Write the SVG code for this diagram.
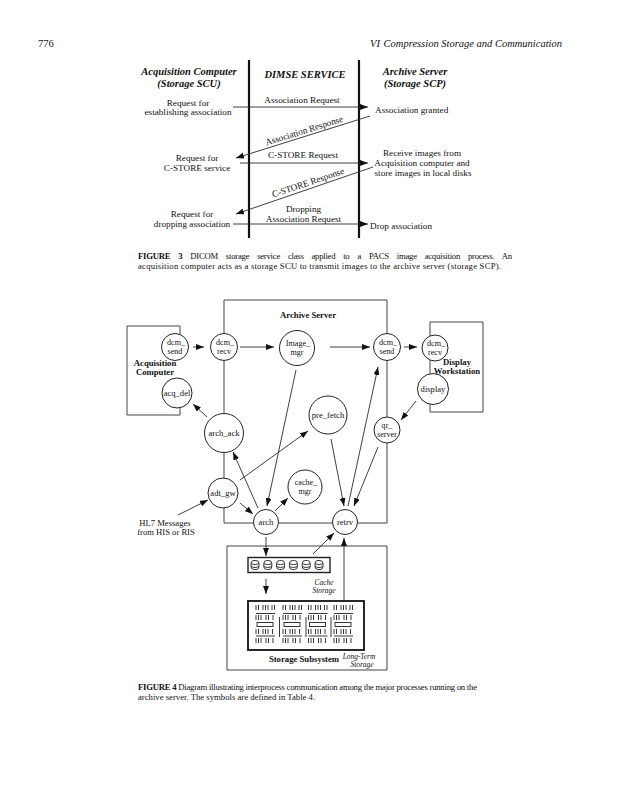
<svg xmlns="http://www.w3.org/2000/svg" width="644" height="800" viewBox="0 0 644 800">
<style>
text{font-family:"Liberation Serif","Times New Roman",serif;fill:#111}
.hd{font-size:10.5px;font-style:italic}
.pg{font-size:10.5px}
.h3{font-size:10.5px;font-weight:bold;font-style:italic}
.t3{font-size:9.2px}
.cap{font-size:8.7px}
.capb{font-weight:bold}
.lb{font-size:8.6px}
.l2{font-size:8.1px}
.bb{font-size:8.7px;font-weight:bold}
.it{font-size:7.4px;font-style:italic}
.c{text-anchor:middle}
.ln{stroke:#2a2a2a;stroke-width:0.9;fill:none}
.vl{stroke:#111;stroke-width:2.2}
.bx{stroke:#444;stroke-width:1;fill:none}
.nd circle{fill:#fff;stroke:#222;stroke-width:1}
.mk{stroke:#222;stroke-width:0.9;fill:none}
</style>
<defs>
<marker id="ah" markerUnits="userSpaceOnUse" markerWidth="8" markerHeight="6" refX="8" refY="3" orient="auto">
<path d="M0,0 L8,3 L0,6 z" fill="#111"/>
</marker>
<g id="disk" class="mk"><rect x="-4" y="-4.5" width="8" height="9" rx="3"/><path d="M-4,-1.3 Q0,0.8 4,-1.3 M-4,1.6 Q0,3.7 4,1.6"/></g>
<g id="col" class="mk">
<path d="M0,0v5M2.5,0v5M7,0v5M9.5,0v5M12,0v5M16,0v5M18.5,0v5"/>
<path d="M0,8.5h19"/>
<path d="M0,10v5M2.5,10v5M5,10v5M10,10v5M12.5,10v5M17,10v5"/>
<rect x="1" y="17.5" width="16" height="4"/>
<path d="M0,24v5M2.5,24v5M7,24v5M9.5,24v5M12,24v5M16.5,24v5"/>
<path d="M0,31h19"/>
<path d="M0,33v5M2.5,33v5M5,33v5M10,33v5M12.5,33v5M17,33v5"/>
</g>
</defs>

<!-- page header -->
<text class="pg" x="38" y="47">776</text>
<text class="hd" x="370" y="47">VI</text>
<text class="hd" x="562" y="47" text-anchor="end">Compression Storage and Communication</text>

<!-- FIGURE 3 -->
<g id="fig3">
<g id="fig3-lanes">
<line class="vl" x1="249" y1="60" x2="249" y2="238"/>
<line class="vl" x1="359" y1="60" x2="359" y2="238"/>
</g>
<g id="fig3-headers">
<text class="h3 c" x="189" y="75">Acquisition Computer</text>
<text class="h3 c" x="189" y="87">(Storage SCU)</text>
<text class="h3 c" x="305" y="78">DIMSE SERVICE</text>
<text class="h3 c" x="415" y="75">Archive Server</text>
<text class="h3 c" x="415" y="87">(Storage SCP)</text>
</g>
<g id="fig3-scu">
<text class="t3 c" x="188" y="106">Request for</text>
<text class="t3 c" x="188" y="115">establishing association</text>
<text class="t3 c" x="197" y="161">Request for</text>
<text class="t3 c" x="197" y="171">C-STORE service</text>
<text class="t3 c" x="192" y="217">Request for</text>
<text class="t3 c" x="192" y="227">dropping association</text>
</g>
<g id="fig3-scp">
<text class="t3" x="375" y="113">Association granted</text>
<text class="t3 c" x="422" y="156">Receive images from</text>
<text class="t3 c" x="422" y="166">Acquisition computer and</text>
<text class="t3 c" x="423" y="176">store images in local disks</text>
<text class="t3" x="370" y="229">Drop association</text>
</g>
<g id="fig3-messages">
<line class="ln" x1="233" y1="107" x2="368" y2="107" marker-end="url(#ah)"/>
<text class="t3 c" x="302" y="103">Association Request</text>
<line class="ln" x1="370" y1="116" x2="236" y2="158" marker-end="url(#ah)"/>
<text class="t3 c" transform="translate(305,133.5) rotate(-17.4)">Association Response</text>
<line class="ln" x1="240" y1="163" x2="368" y2="163" marker-end="url(#ah)"/>
<text class="t3 c" x="303" y="158">C-STORE Request</text>
<line class="ln" x1="373" y1="167" x2="236" y2="214" marker-end="url(#ah)"/>
<text class="t3 c" transform="translate(309,185.5) rotate(-18.6)">C-STORE Response</text>
<line class="ln" x1="233" y1="224" x2="368" y2="224" marker-end="url(#ah)"/>
<text class="t3 c" x="303.5" y="212">Dropping</text>
<text class="t3 c" x="303.5" y="222">Association Request</text>
</g>
</g>

<g id="caption3">
<text class="cap" x="138" y="259" word-spacing="6" textLength="374" lengthAdjust="spacing"><tspan class="capb">FIGURE 3</tspan>   DICOM storage service class applied to a PACS image acquisition process. An</text>
<text class="cap" x="138" y="268.5" textLength="363" lengthAdjust="spacing">acquisition computer acts as a storage SCU to transmit images to the archive server (storage SCP).</text>
</g>

<!-- FIGURE 4 -->
<g id="fig4-frames">
<path class="bx" d="M224,300 H387 V523 H224 Z"/>
<text class="bb c" x="308" y="318">Archive Server</text>
<path class="bx" d="M180,326 H127 V415 H180 M180,326 V337 M180,406 V415"/>
<text class="bb c" x="155" y="366">Acquisition</text>
<text class="bb c" x="155" y="375">Computer</text>
<path class="bx" d="M430,322 H483 V412 H430 Z"/>
<text class="bb c" x="457" y="365">Display</text>
<text class="bb c" x="457" y="374">Workstation</text>
<path class="bx" d="M227,546 H387 V670 H227 Z"/>
<text class="bb c" x="304" y="662">Storage Subsystem</text>
</g>

<g id="cache-storage">
<rect x="248" y="557.5" width="82" height="15" fill="#fff" stroke="#222" stroke-width="1.4"/>
<use href="#disk" x="255" y="565"/>
<use href="#disk" x="267.8" y="565"/>
<use href="#disk" x="280.6" y="565"/>
<use href="#disk" x="293.4" y="565"/>
<use href="#disk" x="306.2" y="565"/>
<use href="#disk" x="319" y="565"/>
<text class="it c" x="324" y="585">Cache</text>
<text class="it c" x="324" y="592.5">Storage</text>
</g>

<g id="long-term-storage">
<rect x="248" y="601" width="116" height="49" fill="#fff" stroke="#111" stroke-width="1.8"/>
<use href="#col" x="256" y="605"/>
<use href="#col" x="283" y="605"/>
<use href="#col" x="308.5" y="605"/>
<use href="#col" x="334" y="605"/>
<path class="mk" d="M279.5,617 V637 M306,617 V637 M331,617 V637" stroke-width="1.3"/>
<text class="it c" x="359" y="659">Long-Term</text>
<text class="it c" x="362" y="666.5">Storage</text>
</g>

<g id="connectors">
<line class="ln" x1="193" y1="347" x2="204" y2="347" marker-end="url(#ah)"/>
<line class="ln" x1="240" y1="347" x2="274" y2="347" marker-end="url(#ah)"/>
<line class="ln" x1="330" y1="347" x2="370" y2="347" marker-end="url(#ah)"/>
<line class="ln" x1="404" y1="347" x2="417" y2="347" marker-end="url(#ah)"/>
<line class="ln" x1="416" y1="401" x2="401" y2="420" marker-end="url(#ah)"/>
<line class="ln" x1="207" y1="417" x2="193" y2="404" marker-end="url(#ah)"/>
<line class="ln" x1="296" y1="370" x2="267" y2="506" marker-end="url(#ah)"/>
<line class="ln" x1="258" y1="508" x2="233" y2="452" marker-end="url(#ah)"/>
<line class="ln" x1="240" y1="480" x2="308" y2="431" marker-end="url(#ah)"/>
<line class="ln" x1="240" y1="503" x2="253" y2="514" marker-end="url(#ah)"/>
<line class="ln" x1="275" y1="511" x2="288" y2="498" marker-end="url(#ah)"/>
<line class="ln" x1="331" y1="439" x2="344" y2="506" marker-end="url(#ah)"/>
<line class="ln" x1="348" y1="506" x2="378" y2="367" marker-end="url(#ah)"/>
<line class="ln" x1="378" y1="447" x2="354" y2="506" marker-end="url(#ah)"/>
<line class="ln" x1="178" y1="515" x2="208" y2="500" marker-end="url(#ah)"/>
<line class="ln" x1="266" y1="537" x2="266" y2="556" marker-end="url(#ah)"/>
<line class="ln" x1="313" y1="554" x2="334" y2="533" marker-end="url(#ah)"/>
<line class="ln" x1="344" y1="601" x2="344" y2="538" marker-end="url(#ah)"/>
<line class="ln" x1="266" y1="579" x2="266" y2="594" marker-end="url(#ah)"/>
</g>

<text class="lb c" x="165" y="526">HL7 Messages</text>
<text class="lb c" x="166" y="535">from HIS or RIS</text>

<g id="acq-dcm-send" class="nd"><circle cx="175" cy="347" r="13.5"/><text class="l2 c" x="176" y="344.5">dcm_</text><text class="l2 c" x="175" y="353.5">send</text></g>
<g id="acq-del" class="nd"><circle cx="177" cy="393" r="15"/><text class="lb c" x="177" y="396">acq_del</text></g>
<g id="dcm-recv" class="nd"><circle cx="224" cy="347" r="13.5"/><text class="l2 c" x="225" y="344.5">dcm_</text><text class="l2 c" x="224" y="353.5">recv</text></g>
<g id="image-mgr" class="nd"><circle cx="297" cy="348" r="17.5"/><text class="l2 c" x="298" y="345.5">Image_</text><text class="l2 c" x="297" y="354.5">mgr</text></g>
<g id="arch-dcm-send" class="nd"><circle cx="387" cy="347" r="13.5"/><text class="l2 c" x="388" y="344.5">dcm_</text><text class="l2 c" x="387" y="353.5">send</text></g>
<g id="disp-dcm-recv" class="nd"><circle cx="435" cy="348" r="13"/><text class="l2 c" x="436" y="345.5">dcm_</text><text class="l2 c" x="435" y="354.5">recv</text></g>
<g id="display" class="nd"><circle cx="433" cy="389" r="15.5"/><text class="lb c" x="433" y="392">display</text></g>
<g id="arch-ack" class="nd"><circle cx="224" cy="433" r="19.5"/><text class="lb c" x="224" y="436">arch_ack</text></g>
<g id="pre-fetch" class="nd"><circle cx="328" cy="415" r="19"/><text class="lb c" x="328" y="418">pre_fetch</text></g>
<g id="qr-server" class="nd"><circle cx="387" cy="430" r="13"/><text class="l2 c" x="387" y="427.5">qr_</text><text class="l2 c" x="387" y="436.5">server</text></g>
<g id="adt-gw" class="nd"><circle cx="223" cy="493" r="15"/><text class="lb c" x="223" y="496">adt_gw</text></g>
<g id="cache-mgr" class="nd"><circle cx="305" cy="487" r="17"/><text class="l2 c" x="306" y="484.5">cache_</text><text class="l2 c" x="305" y="493.5">mgr</text></g>
<g id="arch" class="nd"><circle cx="266" cy="522" r="12.5"/><text class="lb c" x="266" y="525">arch</text></g>
<g id="retrv" class="nd"><circle cx="345" cy="522" r="12.5"/><text class="lb c" x="345" y="525">retrv</text></g>

<g id="caption4">
<text class="cap" x="138" y="690" textLength="339" lengthAdjust="spacing"><tspan class="capb">FIGURE 4</tspan>   Diagram illustrating interprocess communication among the major processes running on the</text>
<text class="cap" x="138" y="699.5">archive server. The symbols are defined in Table 4.</text>
</g>
</svg>
